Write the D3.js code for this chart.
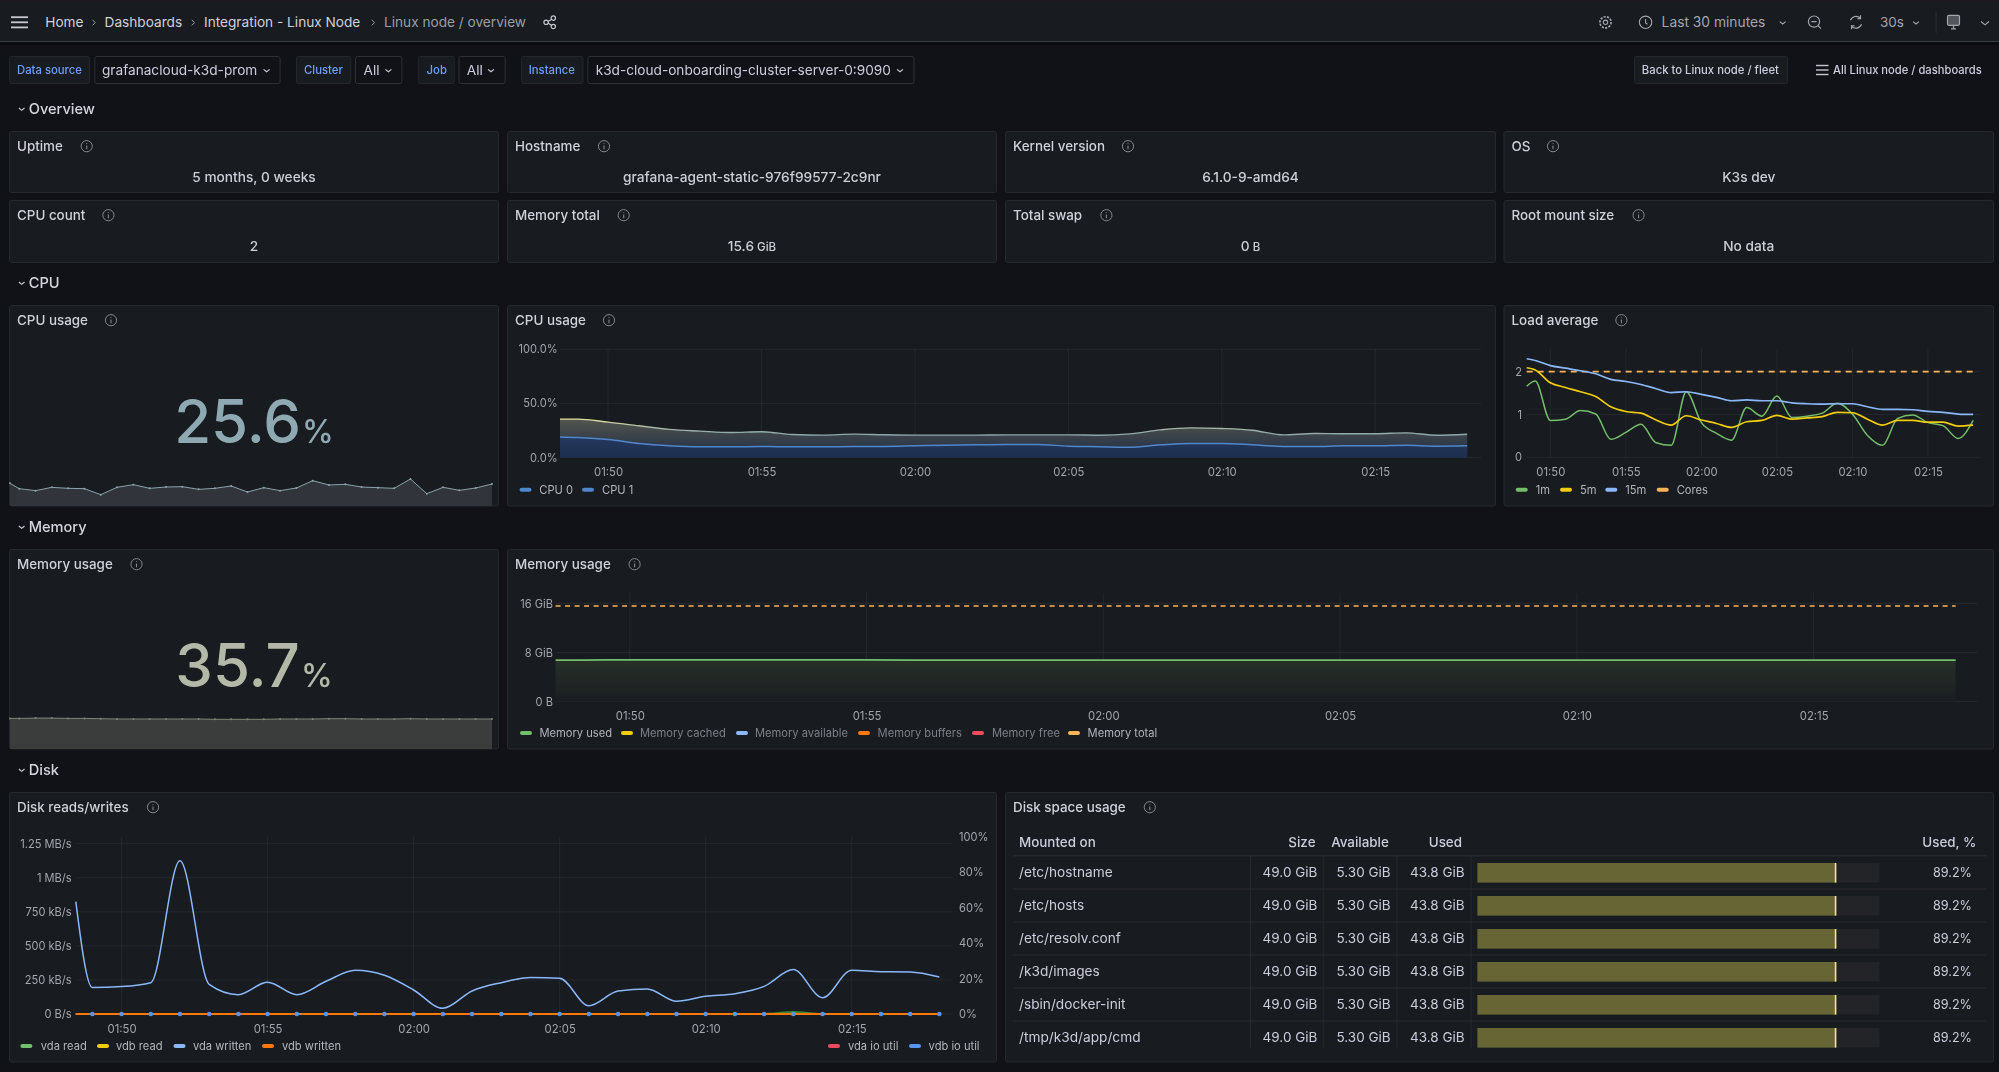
<!DOCTYPE html>
<html><head><meta charset="utf-8">
<script src="https://cdn.jsdelivr.net/npm/d3@7/dist/d3.min.js"></script>
<style>
html,body{margin:0;padding:0;background:#111217;overflow:hidden}
svg{display:block;font-family:Inter,"Noto Sans",sans-serif;filter:blur(0.4px)}
</style></head><body><svg id="c" width="1999" height="1072"></svg>
<script>
// ---------- data ----------
const sampleTimes=["01:48:26","01:49:00","01:50:00","01:51:00","01:52:00","01:53:00","01:54:00","01:55:00","01:56:00","01:57:00","01:58:00","01:59:00","02:00:00","02:01:00","02:02:00","02:03:00","02:04:00","02:05:00","02:06:00","02:07:00","02:08:00","02:09:00","02:10:00","02:11:00","02:12:00","02:13:00","02:14:00","02:15:00","02:16:00","02:17:00","02:18:00"];
const timeTicks=["01:50","01:55","02:00","02:05","02:10","02:15"];
const cpuLower=[19,18.5,16.7,13,10.8,9.9,9.9,10.2,9.9,9.9,10.2,10.2,10.8,11.4,11.7,12,12,10.5,10,9.5,11.7,12.9,12.9,11.7,10.2,10.2,10.8,10.8,11.4,10.5,10.8];
const cpuStackTop=[35.5,35.5,32.7,29.3,26,24.4,23.1,23.8,21.3,20.7,21.6,21,20.7,20.7,20.7,20.9,20.9,20.9,20.6,21.8,25.5,27.4,26.8,25.2,20.9,22.2,22,22,22.8,20.6,21.5];
const cpuSpark=[25.8,24.2,23.6,24.6,24.3,24.2,22.4,24.6,25.4,24.3,24.7,24.8,24,24.3,25,23.2,24.5,23.6,24.4,26.6,25.3,25.5,24.7,24.5,24.3,27.1,22.7,24.6,23.7,24.4,25.6];
const memSpark=[35.9,35.9,36,36,35.9,35.9,35.8,35.7,35.7,35.7,35.7,35.7,35.7,35.6,35.6,35.6,35.6,35.7,35.7,35.7,35.8,35.8,35.7,35.7,35.7,35.8,35.7,35.7,35.7,35.7,35.7];
const load1m=[1.66,1.78,.86,.89,1.09,1.01,.42,.58,.77,.34,.28,1.53,.81,.56,.40,1.16,.96,1.43,.93,.96,1.03,1.26,1.01,.51,.28,.91,.99,.81,.74,.44,.86];
const load5m=[2.09,2.04,1.74,1.63,1.53,1.42,1.18,1.07,1.03,.87,.75,.97,.87,.79,.70,.83,.86,.98,.89,.92,.95,1.05,1.04,.89,.75,.86,.86,.82,.82,.73,.75];
const load15m=[2.30,2.26,2.14,2.08,2.02,1.95,1.82,1.77,1.70,1.60,1.51,1.53,1.47,1.40,1.32,1.34,1.32,1.32,1.27,1.25,1.24,1.25,1.25,1.18,1.12,1.12,1.11,1.07,1.05,1.01,1.00];
const loadCores=sampleTimes.map(()=>2);
const memUsed=[6.75,6.76,6.8,6.81,6.81,6.8,6.8,6.79,6.77,6.76,6.76,6.76,6.76,6.75,6.75,6.75,6.75,6.76,6.76,6.76,6.77,6.77,6.76,6.76,6.76,6.77,6.76,6.76,6.76,6.75,6.75];
const memTotal=sampleTimes.map(()=>15.6);
const diskWritten=[825,194,201,230,1125,218,142,233,142,240,321,284,176,42,169,230,267,262,61,169,184,93,130,149,203,326,120,321,311,309,272];
const diskVdaRead=[0,0,0,0,0,0,0,0,0,0,0,0,0,0,0,0,0,0,0,0,0,0,0,0,0,15,0,0,0,0,0];
const diskZero=sampleTimes.map(()=>0);
const diskTicks=[0,250,500,750,1000,1250];
const diskTickLabels=["0 B/s","250 kB/s","500 kB/s","750 kB/s","1 MB/s","1.25 MB/s"];
const ioTicks=[0,20,40,60,80,100];
const mounts=["/etc/hostname","/etc/hosts","/etc/resolv.conf","/k3d/images","/sbin/docker-init","/tmp/k3d/app/cmd"];
const mountSize=["49.0 GiB","49.0 GiB","49.0 GiB","49.0 GiB","49.0 GiB","49.0 GiB"];
const mountAvail=["5.30 GiB","5.30 GiB","5.30 GiB","5.30 GiB","5.30 GiB","5.30 GiB"];
const mountUsed=["43.8 GiB","43.8 GiB","43.8 GiB","43.8 GiB","43.8 GiB","43.8 GiB"];
const mountPct=[89.2,89.2,89.2,89.2,89.2,89.2];

// ---------- helpers ----------
const svg=d3.select("#c");
const defs=svg.append("defs");
const C={bg:"#111217",panel:"#181b1f",border:"#25282d",text:"#ccccdc",dim:"#a4a5ae",grid:"rgba(204,204,220,0.07)",
 green:"#73bf69",yellow:"#f2cc0c",blue:"#8ab8ff",orange:"#ffb357",dorange:"#ff780a",red:"#f2495c",mblue:"#5794f2"};
const pt=d3.timeParse("%H:%M:%S");
const times=sampleTimes.map(pt);
const tickDates=timeTicks.map(s=>pt(s+":00"));
const domainX=[pt("01:48:26"),pt("02:18:27")];
const AXF=11.1;

function txt(g,x,y,s,o={}){
 return g.append("text").attr("x",x).attr("y",y).attr("dy","0.35em").text(s)
  .attr("fill",o.fill||C.text).attr("font-size",o.size||14).attr("font-weight",o.weight||400)
  .attr("text-anchor",o.anchor||"start");
}
function chevron(g,x,y,c="#ccccdc",w=3,h=2){
 g.append("path").attr("d",`M${x-w},${y-h/2}L${x},${y+h/2+.4}L${x+w},${y-h/2}`).attr("fill","none").attr("stroke",c).attr("stroke-width",1.1);
}
function info(g,x,y){
 const i=g.append("g").attr("transform",`translate(${x},${y})`);
 i.append("circle").attr("r",5.6).attr("fill","none").attr("stroke","#85868f").attr("stroke-width",1);
 i.append("path").attr("d","M0,-0.8V3M0,-3.2V-2.4").attr("stroke","#85868f").attr("stroke-width",1.1);
}
function panel(x0,y0,x1,y1,title,ix){
 const g=svg.append("g");
 g.append("rect").attr("x",x0+.5).attr("y",y0+.5).attr("width",x1-x0-1).attr("height",y1-y0-1).attr("rx",2)
  .attr("fill",C.panel).attr("stroke",C.border);
 txt(g,x0+8,y0+15.2,title,{weight:500,size:13.4,fill:"#d0d1da"});
 info(g,ix,y0+15.2);
 return g;
}
function legend(g,items,y){
 items.forEach(it=>{
  g.append("rect").attr("x",it.sx).attr("y",y-2).attr("width",12).attr("height",4).attr("rx",2).attr("fill",it.c);
  txt(g,it.tx,y,it.t,{size:11.15,fill:it.on===false?"#7e7f88":"#b4b5be"});
 });
}
function axes(g,x,y,o){
 g.append("g").selectAll("line").data(tickDates).join("line").attr("x1",x).attr("x2",x).attr("y1",o.gt).attr("y2",o.gb).attr("stroke",C.grid);
 g.append("g").selectAll("line").data(o.yt).join("line").attr("x1",x.range()[0]).attr("x2",x.range()[1]).attr("y1",y).attr("y2",y).attr("stroke",C.grid);
 const ax=g.append("g").attr("transform",`translate(0,${o.xl-5.6})`)
  .call(d3.axisBottom(x).tickValues(tickDates).tickFormat(d3.timeFormat("%H:%M")).tickSize(0).tickPadding(2));
 ax.select(".domain").remove();
 ax.selectAll("text").attr("fill",C.dim).attr("font-size",AXF+.2).attr("font-family","Inter");
 const ay=g.append("g").attr("transform",`translate(${o.yr+6},0)`)
  .call(d3.axisLeft(y).tickValues(o.yt).tickFormat(o.yf).tickSize(0).tickPadding(6));
 ay.select(".domain").remove();
 ay.selectAll("text").attr("fill",C.dim).attr("font-size",AXF).attr("font-family","Inter");
}
function lineOf(x,y,vals,curve=d3.curveMonotoneX){
 return d3.line().x((d,i)=>x(times[i])).y(d=>y(d)).curve(curve)(vals);
}
function areaOf(x,y,vals,base,curve=d3.curveMonotoneX){
 return d3.area().x((d,i)=>x(times[i])).y0(y(base)).y1(d=>y(d)).curve(curve)(vals);
}
function grad(id,y0,y1,stops){
 const g=defs.append("linearGradient").attr("id",id).attr("gradientUnits","userSpaceOnUse").attr("x1",0).attr("x2",0).attr("y1",y0).attr("y2",y1);
 stops.forEach(s=>g.append("stop").attr("offset",s[0]).attr("stop-color",s[1]));
}

// ---------- top bar ----------
const bar=svg.append("g");
bar.append("rect").attr("width",1999).attr("height",3).attr("fill","#1c1a1c");
bar.append("rect").attr("y",3).attr("width",1999).attr("height",38).attr("fill",C.panel);
bar.append("rect").attr("y",41).attr("width",1999).attr("height",1).attr("fill","#3a3d42");
bar.append("rect").attr("y",42).attr("width",1999).attr("height",3).attr("fill","#0c0d11");
[17.2,22.3,27.4].forEach(v=>bar.append("rect").attr("x",11).attr("y",v-.9).attr("width",17).attr("height",1.8).attr("fill","#c6c7d0"));
[["Home",45.3,"#d0d1da"],["Dashboards",104.6,"#d0d1da"],["Integration - Linux Node",204,"#d0d1da"],["Linux node / overview",384,"#9c9da6"]]
 .forEach(b=>txt(bar,b[1],22.3,b[0],{size:13.65,fill:b[2]}));
[93.7,193,373].forEach(x=>bar.append("path").attr("d",`M${x-1.2},19.8L${x+1.5},22.6L${x-1.2},25.4`).attr("fill","none").attr("stroke","#9c9da6"));
(()=>{const s=bar.append("g").attr("transform","translate(549.7,22.3)").attr("stroke","#c6c7d0").attr("fill","none").attr("stroke-width",1.2);
 s.append("path").attr("d","M-3,0L3,-3.6M-3,0L3,3.6");
 [[-3.6,0],[3.6,-4.2],[3.6,4.2]].forEach(c=>s.append("circle").attr("cx",c[0]).attr("cy",c[1]).attr("r",2.2).attr("fill",C.panel));})();
(()=>{const s=bar.append("g").attr("transform","translate(1605.5,22.3)").attr("stroke","#a4a5ae").attr("fill","none");
 s.append("circle").attr("r",5.6).attr("stroke-width",1.6).attr("stroke-dasharray","2.2 1.2");s.append("circle").attr("r",2.2).attr("stroke-width",1.1);})();
(()=>{const s=bar.append("g").attr("transform","translate(1645.6,22.3)").attr("stroke","#a4a5ae").attr("fill","none").attr("stroke-width",1.1);
 s.append("circle").attr("r",6.2);s.append("path").attr("d","M0,-3.4V0.6L2,2");})();
txt(bar,1661.6,22.3,"Last 30 minutes",{size:13.8,fill:"#a4a5ae"});
chevron(bar,1782.7,22.6,"#a4a5ae");
(()=>{const s=bar.append("g").attr("transform","translate(1814,21.6)").attr("stroke","#a4a5ae").attr("fill","none").attr("stroke-width",1.2);
 s.append("circle").attr("r",5.6);s.append("path").attr("d","M-2.6,0H2.6M4,4L7,7");})();
(()=>{const s=bar.append("g").attr("transform","translate(1856,22.3)").attr("stroke","#a4a5ae").attr("fill","none").attr("stroke-width",1.2);
 s.append("path").attr("d","M-5.5,-2A6,6 0 0 1 4.5,-4M5.5,2A6,6 0 0 1 -4.5,4M4.5,-7V-3.6H1.5M-4.5,7V3.6H-1.5");})();
txt(bar,1880,22.3,"30s",{size:13.4,fill:"#a4a5ae"});
chevron(bar,1916,22.6,"#a4a5ae");
bar.append("rect").attr("x",1935.6).attr("y",12).attr("width",1).attr("height",21).attr("fill","#2b2e33");
(()=>{const s=bar.append("g").attr("transform","translate(1953.5,22.3)").attr("stroke","#a4a5ae").attr("fill","none").attr("stroke-width",1.2);
 s.append("rect").attr("x",-6).attr("y",-7).attr("width",12).attr("height",10).attr("rx",1.5).attr("fill","#55565d");s.append("path").attr("d","M-2.5,6.5H2.5M0,3V6.5");})();
chevron(bar,1985,23,"#a4a5ae",4,3);

// ---------- filter row ----------
const fr=svg.append("g");
const fy0=56,fy1=84;
function fbox(x0,x1,label){
 fr.append("rect").attr("x",x0+.5).attr("y",fy0+.5).attr("width",x1-x0-1).attr("height",fy1-fy0-1).attr("rx",2)
  .attr("fill",label?C.panel:C.bg).attr("stroke",label?"#23262b":"#2d3035");
}
[[9,90,"Data source",17],[296,351.4,"Cluster",304],[417.7,454.7,"Job",426.6],[521,583.5,"Instance",528.7]].forEach(f=>{
 fbox(f[0],f[1],true);txt(fr,f[3],70,f[2],{size:11.3,weight:500,fill:"#6e9fff"});
});
[[94.4,280.6,"grafanacloud-k3d-prom",102,266.6],[355,402.4,"All",363.5,388.4],[458.5,505.7,"All",466.8,491],[587.4,914.5,"k3d-cloud-onboarding-cluster-server-0:9090",595.7,900]].forEach(f=>{
 fbox(f[0],f[1],false);txt(fr,f[3],70,f[2],{size:13.65,fill:"#ccccdc"});chevron(fr,f[4],70.4,"#ccccdc");
});
fbox(1634,1788,true);
txt(fr,1641.8,70,"Back to Linux node / fleet",{size:11.3,weight:500,fill:"#ccccdc"});
[65.5,70,74.5].forEach(v=>fr.append("rect").attr("x",1816).attr("y",v-.7).attr("width",12.5).attr("height",1.4).attr("fill","#c6c7d0"));
txt(fr,1833,70,"All Linux node / dashboards",{size:11.2,weight:500,fill:"#ccccdc"});

// ---------- section rows ----------
[["Overview",109],["CPU",283],["Memory",527],["Disk",770]].forEach(s=>{
 chevron(svg,21.7,s[1],"#ccccdc",2.8,2);txt(svg,28.7,s[1],s[0],{size:14.6,weight:500,fill:"#d4d5de"});
});

// ---------- overview ----------
[[9,499,131,193,"Uptime",86.7,"5 months, 0 weeks"],
 [507,997,131,193,"Hostname",604,"grafana-agent-static-976f99577-2c9nr"],
 [1005,1496,131,193,"Kernel version",1128,"6.1.0-9-amd64"],
 [1503.5,1994,131,193,"OS",1553,"K3s dev"],
 [9,499,200,263,"CPU count",108.4,"2"],
 [507,997,200,263,"Memory total",623.7,"15.6|GiB"],
 [1005,1496,200,263,"Total swap",1106.4,"0|B"],
 [1503.5,1994,200,263,"Root mount size",1638.6,"No data"]].forEach(p=>{
 const g=panel(p[0],p[2],p[1],p[3],p[4],p[5]);
 const parts=p[6].split("|");
 const t=txt(g,(p[0]+p[1])/2,p[2]+46,parts[0],{anchor:"middle",size:13.7,weight:500,fill:"#cdced7"});
 if(parts[1]) t.append("tspan").attr("font-size",11.5).text(" "+parts[1]);
});

// ---------- stat panels ----------
function stat(x0,x1,y0,y1,title,ix,val,color,base,vals,dom,rng,lc,fc){
 const g=panel(x0,y0,x1,y1,title,ix);
 const t=g.append("text").attr("x",(x0+x1)/2).attr("y",base).attr("text-anchor","middle").attr("fill",color)
   .attr("font-size",60).attr("font-weight",500).text(val);
 t.append("tspan").attr("font-size",32).attr("dx",1).text("%");
 const x=d3.scaleTime().domain([times[0],times[times.length-1]]).range([10,492]);
 const y=d3.scaleLinear().domain(dom).range(rng);
 const line=d3.line().x((d,i)=>x(times[i])).y(d=>y(d));
 const area=d3.area().x((d,i)=>x(times[i])).y0(y(dom[0])).y1(d=>y(d));
 g.append("path").attr("d",area(vals)).attr("fill",fc);
 g.append("path").attr("d",line(vals)).attr("fill","none").attr("stroke",lc).attr("stroke-width",1);
 g.selectAll("circle.dot").data(vals).join("circle").attr("class","dot").attr("cx",(d,i)=>x(times[i])).attr("cy",d=>y(d)).attr("r",1).attr("fill",lc);
}
stat(9,499,305,506.5,"CPU usage",111,"25.6","#8fa9b2",442.7,cpuSpark,[19,29],[506,472.67],"#8ba3ab","#31353b");
stat(9,499,549,749.5,"Memory usage",136.5,"35.7","#b3b9a6",686.7,memSpark,[25.7,45.7],[749,689],"#7f8676","#3a3d3c");

// ---------- CPU time series ----------
(()=>{
 const g=panel(507,305,1496,506.5,"CPU usage",609);
 const x=d3.scaleTime().domain(domainX).range([560,1481]);
 const y=d3.scaleLinear().domain([0,100]).range([457.5,349.3]);
 axes(g,x,y,{gt:349,gb:457.5,yt:[0,50,100],yf:d=>d.toFixed(1)+"%",yr:557.6,xl:472});
 grad("cpuTopFill",y(36),y(0),[[0,"#55564e"],[.4,"#3d4449"],[1,"#1e2d49"]]);
 grad("cpuLowFill",y(19),y(0),[[0,"#25395c"],[1,"#1d2f50"]]);
 grad("cpuTopLine",y(36),y(20),[[0,"#e7e59c"],[.5,"#a9b6a6"],[1,"#88a6ae"]]);
 g.append("path").attr("d",areaOf(x,y,cpuStackTop,0)).attr("fill","url(#cpuTopFill)");
 g.append("path").attr("d",areaOf(x,y,cpuLower,0)).attr("fill","url(#cpuLowFill)");
 g.append("path").attr("d",lineOf(x,y,cpuStackTop)).attr("fill","none").attr("stroke","url(#cpuTopLine)").attr("stroke-width",1.4);
 g.append("path").attr("d",lineOf(x,y,cpuLower)).attr("fill","none").attr("stroke","#4f86cc").attr("stroke-width",1.5);
 legend(g,[{sx:519.5,tx:539.3,t:"CPU 0",c:"#4f86cc"},{sx:582,tx:602,t:"CPU 1",c:"#4f86cc"}],489.7);
})();

// ---------- Load average ----------
(()=>{
 const g=panel(1503.5,305,1994,506.5,"Load average",1621.4);
 const x=d3.scaleTime().domain(domainX).range([1526.7,1980]);
 const y=d3.scaleLinear().domain([0,2.5]).range([457.3,350.2]);
 axes(g,x,y,{gt:349,gb:457.3,yt:[0,1,2],yf:d3.format("d"),yr:1522,xl:472});
 g.append("path").attr("d",lineOf(x,y,load1m)).attr("fill","none").attr("stroke",C.green).attr("stroke-width",1.5);
 g.append("path").attr("d",lineOf(x,y,loadCores)).attr("fill","none").attr("stroke",C.orange).attr("stroke-width",1.6).attr("stroke-dasharray","6 5");
 g.append("path").attr("d",lineOf(x,y,load15m)).attr("fill","none").attr("stroke",C.blue).attr("stroke-width",1.7);
 g.append("path").attr("d",lineOf(x,y,load5m)).attr("fill","none").attr("stroke",C.yellow).attr("stroke-width",1.7);
 legend(g,[{sx:1515.7,tx:1535.7,t:"1m",c:C.green},{sx:1560,tx:1580,t:"5m",c:C.yellow},{sx:1605.3,tx:1625.3,t:"15m",c:C.blue},{sx:1656.7,tx:1676.7,t:"Cores",c:C.orange}],489.7);
})();

// ---------- Memory ----------
(()=>{
 const g=panel(507,549,1994,749.5,"Memory usage",634.6);
 const x=d3.scaleTime().domain(domainX).range([555.6,1977]);
 const y=d3.scaleLinear().domain([0,16]).range([701.5,603.5]);
 axes(g,x,y,{gt:593,gb:701.5,yt:[0,8,16],yf:d=>d===0?"0 B":d+" GiB",yr:553,xl:716});
 grad("memFill",y(6.8),y(0),[[0,"#273028"],[1,"#1a1d21"]]);
 g.append("path").attr("d",areaOf(x,y,memUsed,0)).attr("fill","url(#memFill)");
 g.append("path").attr("d",lineOf(x,y,memTotal)).attr("fill","none").attr("stroke",C.orange).attr("stroke-width",1.6).attr("stroke-dasharray","5 4.5");
 g.append("path").attr("d",lineOf(x,y,memUsed)).attr("fill","none").attr("stroke",C.green).attr("stroke-width",1.8);
 legend(g,[{sx:520,tx:539.5,t:"Memory used",c:C.green},
  {sx:621,tx:640,t:"Memory cached",c:C.yellow,on:false},
  {sx:736,tx:755,t:"Memory available",c:C.blue,on:false},
  {sx:858,tx:877.6,t:"Memory buffers",c:C.dorange,on:false},
  {sx:972,tx:992,t:"Memory free",c:C.red,on:false},
  {sx:1068,tx:1087.6,t:"Memory total",c:C.orange}],733);
})();

// ---------- Disk reads/writes ----------
(()=>{
 const g=panel(9,792,997,1062.5,"Disk reads/writes",153);
 const x=d3.scaleTime().domain(domainX).range([75.8,952.5]);
 const y=d3.scaleLinear().domain([0,1250]).range([1014,843.7]);
 const yr=d3.scaleLinear().domain([0,100]).range([1014,837]);
 axes(g,x,y,{gt:837,gb:1014,yt:diskTicks,yf:d=>diskTickLabels[diskTicks.indexOf(d)],yr:71.7,xl:1029});
 const ar=g.append("g").attr("transform","translate(956,0)").call(d3.axisRight(yr).tickValues(ioTicks).tickFormat(d=>d+"%").tickSize(0).tickPadding(3));
 ar.select(".domain").remove();
 ar.selectAll("text").attr("fill",C.dim).attr("font-size",AXF).attr("font-family","Inter");
 g.append("path").attr("d",lineOf(x,y,diskWritten)).attr("fill","none").attr("stroke",C.blue).attr("stroke-width",1.5);
 g.append("path").attr("d",lineOf(x,y,diskVdaRead)).attr("fill","none").attr("stroke","#37872d").attr("stroke-width",2);
 g.append("path").attr("d",lineOf(x,y,diskZero)).attr("fill","none").attr("stroke",C.yellow).attr("stroke-width",1.5);
 g.append("path").attr("d",lineOf(x,yr,diskZero)).attr("fill","none").attr("stroke",C.red).attr("stroke-width",1.5);
 g.append("path").attr("d",lineOf(x,y,diskZero)).attr("fill","none").attr("stroke",C.dorange).attr("stroke-width",2);
 g.selectAll("circle.io").data(diskZero.slice(1)).join("circle").attr("class","io").attr("cx",(d,i)=>x(times[i+1])).attr("cy",d=>yr(d)).attr("r",2.3).attr("fill",C.mblue);
 legend(g,[{sx:20.4,tx:40.8,t:"vda read",c:C.green},{sx:97,tx:116,t:"vdb read",c:C.yellow},{sx:173.5,tx:193,t:"vda written",c:C.blue},{sx:262,tx:282,t:"vdb written",c:C.dorange},
  {sx:828,tx:848,t:"vda io util",c:C.red},{sx:909,tx:928.6,t:"vdb io util",c:C.mblue}],1046);
})();

// ---------- Disk space table ----------
(()=>{
 const g=panel(1005,792,1994,1062.5,"Disk space usage",1149.8);
 const hdr=[["Mounted on",1019,"start"],["Size",1315.5,"end"],["Available",1388.8,"end"],["Used",1462,"end"],["Used, %",1976.4,"end"]];
 hdr.forEach(h=>txt(g,h[1],842.3,h[0],{size:13.4,weight:500,fill:"#ccccdc",anchor:h[2]}));
 const rowY=d3.scaleBand().domain(mounts).range([856,1054]);
 const w=d3.scaleLinear().domain([0,100]).range([1477.4,1879.6]);
 g.append("rect").attr("x",1013).attr("y",854.8).attr("width",973.6).attr("height",1.6).attr("fill","#26292e");
 mounts.forEach((m,i)=>{
  const yc=rowY(m)+16.5, b=rowY.bandwidth();
  if(i>0) g.append("rect").attr("x",1013).attr("y",rowY(m)-.6).attr("width",973.6).attr("height",1.2).attr("fill","#26292e");
  [1250.5,1323.8,1397,1471].forEach(v=>g.append("rect").attr("x",v-.5).attr("y",rowY(m)).attr("width",1).attr("height",i==5?b-5.5:b).attr("fill","#26292e"));
  txt(g,1019,yc+.2,m,{size:13.7,weight:400,fill:"#ccccdc"});
  txt(g,1317.4,yc+.2,mountSize[i],{size:13.5,anchor:"end",fill:"#ccccdc"});
  txt(g,1390.7,yc+.2,mountAvail[i],{size:13.5,anchor:"end",fill:"#ccccdc"});
  txt(g,1464.6,yc+.2,mountUsed[i],{size:13.5,anchor:"end",fill:"#ccccdc"});
  g.append("rect").attr("x",w(0)).attr("y",yc-9.5).attr("width",w(100)-w(0)).attr("height",19.6).attr("fill","#222428");
  g.append("rect").attr("x",w(0)).attr("y",yc-9.5).attr("width",w(mountPct[i])-w(0)).attr("height",19.6).attr("fill","#676534");
  g.append("rect").attr("x",w(mountPct[i])-1.4).attr("y",yc-9.5).attr("width",1.6).attr("height",19.6).attr("fill","#f0e38a");
  txt(g,1972,yc+.2,mountPct[i].toFixed(1)+"%",{size:12.6,anchor:"end",fill:"#ccccdc"});
 });
})();
</script></body></html>
